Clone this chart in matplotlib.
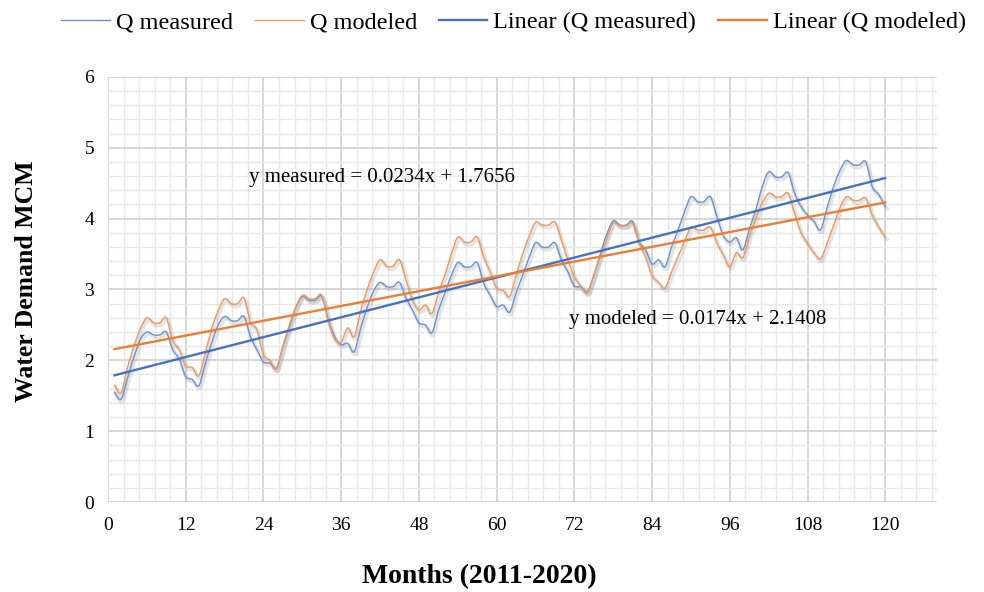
import matplotlib
matplotlib.use('Agg')
import matplotlib.pyplot as plt
import matplotlib.patheffects as pe
from matplotlib.lines import Line2D
import numpy as np

plt.rcParams['font.family'] = ['Liberation Serif', 'DejaVu Serif']

# monthly values, Jan 2011 .. Dec 2020
months = np.arange(1, 121)
q_measured = [
    1.55, 1.45, 1.75, 2.05, 2.30, 2.40, 2.36, 2.36, 2.40, 2.15, 2.02, 1.77,
    1.73, 1.64, 1.95, 2.25, 2.50, 2.62, 2.56, 2.56, 2.62, 2.33, 2.15, 1.98,
    1.96, 1.89, 2.20, 2.47, 2.75, 2.90, 2.85, 2.85, 2.90, 2.57, 2.33, 2.22,
    2.24, 2.12, 2.45, 2.75, 2.98, 3.10, 3.04, 3.04, 3.10, 2.88, 2.71, 2.53,
    2.50, 2.39, 2.70, 2.95, 3.20, 3.38, 3.32, 3.32, 3.38, 3.09, 2.92, 2.76,
    2.78, 2.68, 2.95, 3.20, 3.45, 3.66, 3.60, 3.60, 3.66, 3.42, 3.25, 3.05,
    3.04, 2.97, 3.20, 3.50, 3.78, 3.97, 3.91, 3.91, 3.96, 3.67, 3.56, 3.36,
    3.42, 3.32, 3.60, 3.84, 4.10, 4.31, 4.24, 4.24, 4.31, 4.03, 3.76, 3.67,
    3.73, 3.56, 3.85, 4.12, 4.45, 4.66, 4.59, 4.59, 4.65, 4.36, 4.17, 4.05,
    3.96, 3.84, 4.15, 4.45, 4.68, 4.82, 4.76, 4.76, 4.80, 4.45, 4.34, 4.17,
]
q_modeled = [
    1.65, 1.54, 1.90, 2.20, 2.45, 2.60, 2.53, 2.53, 2.60, 2.28, 2.15, 1.92,
    1.90, 1.78, 2.10, 2.45, 2.70, 2.87, 2.80, 2.80, 2.88, 2.53, 2.43, 2.08,
    2.00, 1.88, 2.20, 2.50, 2.75, 2.92, 2.87, 2.87, 2.92, 2.55, 2.30, 2.26,
    2.46, 2.33, 2.70, 3.00, 3.25, 3.42, 3.33, 3.33, 3.42, 3.14, 2.85, 2.71,
    2.78, 2.66, 2.95, 3.20, 3.50, 3.74, 3.67, 3.67, 3.74, 3.46, 3.25, 3.02,
    2.99, 2.90, 3.20, 3.50, 3.75, 3.95, 3.91, 3.91, 3.95, 3.70, 3.42, 3.18,
    3.05, 2.95, 3.20, 3.46, 3.72, 3.94, 3.90, 3.90, 3.93, 3.66, 3.46, 3.20,
    3.10, 3.02, 3.25, 3.46, 3.68, 3.88, 3.84, 3.84, 3.88, 3.66, 3.49, 3.32,
    3.52, 3.45, 3.75, 4.00, 4.22, 4.36, 4.31, 4.31, 4.36, 4.08, 3.80, 3.65,
    3.52, 3.43, 3.65, 3.90, 4.15, 4.31, 4.26, 4.26, 4.29, 4.05, 3.88, 3.74,
]
# trendline coefficients (slope, intercept) as printed on the chart
trend_measured = (0.0234, 1.7656)
trend_modeled = (0.0174, 2.1408)

BLUE = '#4472C4'
ORANGE = '#ED7D31'
BLUE_L = '#6b93d6'
ORANGE_L = '#f0995c'


def smooth(x, y, n=12):
    # catmull-rom curve through the points, like excel's smoothed line
    p = np.column_stack([x, y]).astype(float)
    p = np.vstack([p[0], p, p[-1]])
    t = np.linspace(0, 1, n, endpoint=False)[:, None]
    out = []
    for i in range(1, len(p) - 2):
        p0, p1, p2, p3 = p[i - 1], p[i], p[i + 1], p[i + 2]
        seg = 0.5 * (2 * p1 + (-p0 + p2) * t + (2 * p0 - 5 * p1 + 4 * p2 - p3) * t ** 2
                     + (-p0 + 3 * p1 - 3 * p2 + p3) * t ** 3)
        out.append(seg)
    out.append(p[-2][None, :])
    out = np.vstack(out)
    return out[:, 0], out[:, 1]


fig = plt.figure(figsize=(9.84, 5.92), dpi=100)
ax = fig.add_axes([0.1098, 0.152, 0.8425, 0.718])

shadow = [pe.SimpleLineShadow(offset=(1, -1.5), shadow_color='#999999', alpha=0.25, linewidth=3), pe.Normal()]

xs, ys = smooth(months, q_measured)
ax.plot(xs, ys, color=BLUE_L, lw=1.0, path_effects=shadow, zorder=3)
xs, ys = smooth(months, q_modeled)
ax.plot(xs, ys, color=ORANGE_L, lw=1.0, path_effects=shadow, zorder=3)

xt = np.array([months[0], months[-1]])
ax.plot(xt, trend_measured[0] * xt + trend_measured[1], color=BLUE, lw=1.7, zorder=4)
ax.plot(xt, trend_modeled[0] * xt + trend_modeled[1], color=ORANGE, lw=1.7, zorder=4)

ax.set_xlim(0, 128)
ax.set_ylim(0, 6)
ax.set_xticks(np.arange(0, 121, 12))
ax.set_xticks(np.arange(0, 128.1, 2.4), minor=True)
ax.set_yticks(np.arange(0, 7, 1))
ax.set_yticks(np.arange(0, 6.01, 0.2), minor=True)
ax.grid(which='major', color='#d0d0d0', lw=1.2)
ax.grid(which='minor', color='#e8e8e8', lw=1.0)
ax.set_axisbelow(True)
for s in ax.spines.values():
    s.set_visible(False)
ax.tick_params(which='both', length=0, labelsize=14)
ax.tick_params(axis='x', pad=11)
ax.tick_params(axis='y', pad=10)

ax.set_xlabel('Months (2011-2020)', fontsize=20, fontweight='bold')
ax.xaxis.set_label_coords(0.4475, -0.145)
ax.set_ylabel('Water Demand MCM', fontsize=18.5, fontweight='bold')
ax.yaxis.set_label_coords(-0.085, 0.52)

ax.text(21.8, 4.58, 'y measured = 0.0234x + 1.7656', fontsize=15, va='center', ha='left')
ax.text(71.1, 2.57, 'y modeled = 0.0174x + 2.1408', fontsize=15, va='center', ha='left')

handles = [Line2D([], [], color=BLUE_L, lw=1.0),
           Line2D([], [], color=ORANGE_L, lw=1.0),
           Line2D([], [], color=BLUE, lw=1.7),
           Line2D([], [], color=ORANGE, lw=1.7)]
labels = ['Q measured', 'Q modeled', 'Linear (Q measured)', 'Linear (Q modeled)']
fig.legend(handles, labels, loc='center', bbox_to_anchor=(0.522, 0.962), ncol=4,
           frameon=False, fontsize=17.5, handlelength=2.0, handletextpad=0.25, columnspacing=0.9)

fig.savefig('out.png', dpi=100)
